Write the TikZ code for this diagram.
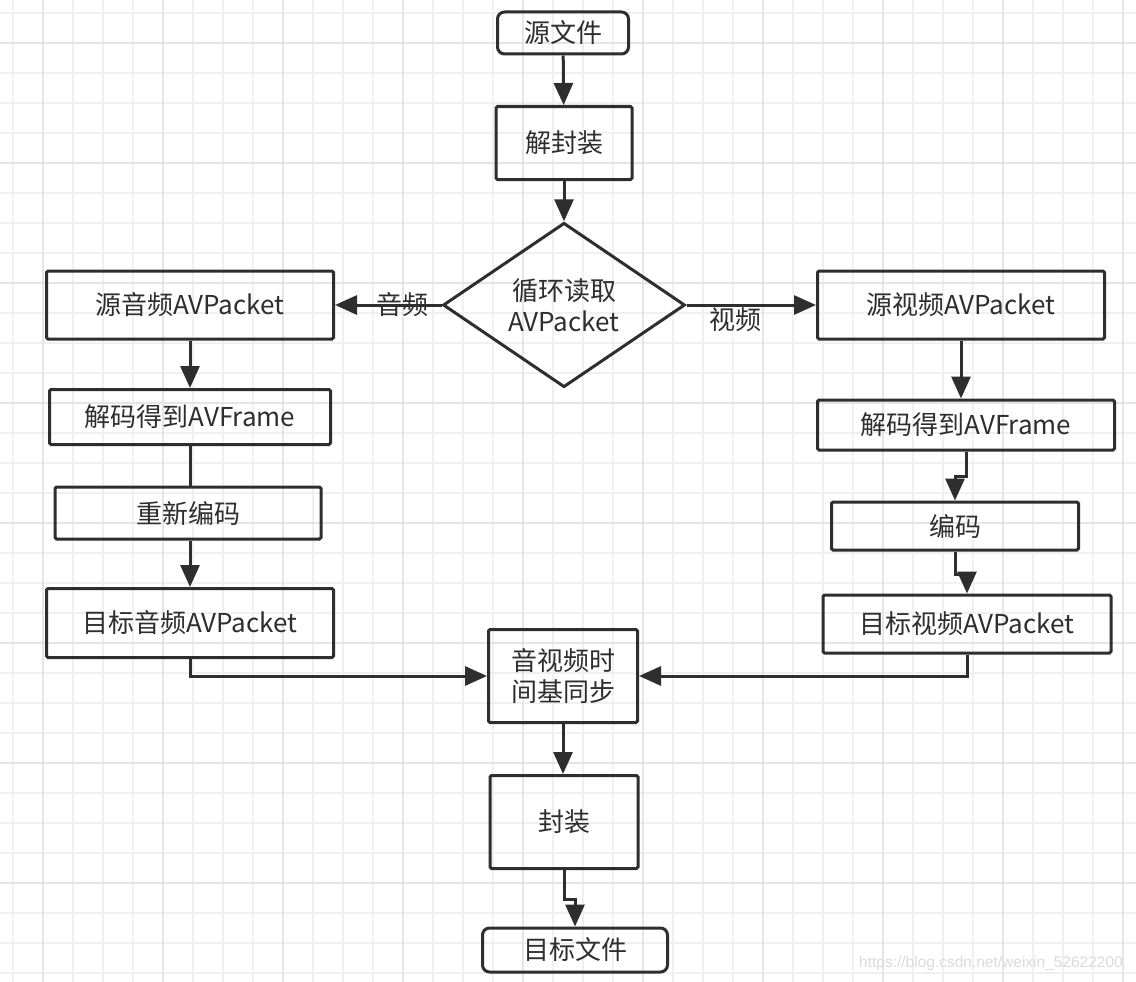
\documentclass[tikz,border=0pt]{standalone}
\usepackage{fontspec}
\setmainfont{Noto Sans CJK SC}
\newfontfamily\markfont{Liberation Sans}
\usetikzlibrary{arrows.meta, shapes.geometric}
\definecolor{ink}{HTML}{2E2E2E}
\definecolor{gridminor}{HTML}{F0F0F0}
\definecolor{gridmajor}{HTML}{E5E5E5}

\begin{document}
\begin{tikzpicture}[x=1pt, y=-1pt]
		\tikzset{box/.style = {draw=ink, line width=3pt, rounded corners=1.5pt, text=ink, align=center,
				font=\fontsize{26pt}{31pt}\selectfont, inner sep=0pt}}
		\tikzset{term/.style = {box, rounded corners=7pt}}
		\tikzset{choice/.style = {box, shape=diamond, rounded corners=0pt, minimum width=242pt, minimum height=160pt}}
		\tikzset{edge/.style = {draw=ink, line width=3pt, -{Triangle[length=22pt, width=19pt]}}}
		\tikzset{link/.style = {draw=ink, line width=3pt}}
		\tikzset{lbl/.style = {text=ink, font=\fontsize{26pt}{31pt}\selectfont, inner sep=0pt}}

		% paper with grid
		\useasboundingbox (0,0) rectangle (1136,982);
		\fill[white] (0,0) rectangle (1136,982);
		\foreach \g in {13,43,...,1133} \draw[gridminor, line width=1.6pt] (\g,0) -- (\g,982);
		\foreach \g in {13,43,...,980} \draw[gridminor, line width=1.6pt] (0,\g) -- (1136,\g);
		\foreach \g in {43,163,...,1133} \draw[gridmajor, line width=1.6pt] (\g,0) -- (\g,982);
		\foreach \g in {43,163,...,980} \draw[gridmajor, line width=1.6pt] (0,\g) -- (1136,\g);

		\node[term, minimum width=131pt, minimum height=42pt] (src) at (563,33) {源文件};
		\node[box, minimum width=136pt, minimum height=73pt] (demux) at (564,143) {解封装};
		\node[choice] (loop) at (564,305) {循环读取\\AVPacket};

		\node[box, minimum width=287pt, minimum height=68pt] (apkt) at (190,305) {源音频AVPacket};
		\node[box, minimum width=281pt, minimum height=55pt] (adec) at (190,417) {解码得到AVFrame};
		\node[box, minimum width=266pt, minimum height=52pt] (aenc) at (188,513) {重新编码};
		\node[box, minimum width=287pt, minimum height=69pt] (aout) at (190,623) {目标音频AVPacket};

		\node[box, minimum width=287pt, minimum height=68pt] (vpkt) at (961,305) {源视频AVPacket};
		\node[box, minimum width=297pt, minimum height=50pt] (vdec) at (966,425) {解码得到AVFrame};
		\node[box, minimum width=247pt, minimum height=48pt] (venc) at (955,526) {编码};
		\node[box, minimum width=288pt, minimum height=58pt] (vout) at (967,624) {目标视频AVPacket};

		\node[box, minimum width=149pt, minimum height=93pt] (sync) at (563,676) {音视频时\\间基同步};
		\node[box, minimum width=148pt, minimum height=93pt] (mux) at (564,822) {封装};
		\node[term, minimum width=185pt, minimum height=44pt] (dst) at (575,950) {目标文件};

		\node[text=black!14, font=\markfont\fontsize{15.5pt}{18pt}\selectfont] (mark) at (991,963) {https://blog.csdn.net/weixin\_52622200};

		\draw[edge] (src) to (demux);
		\draw[edge] (demux) to (loop);
		\draw[edge] (loop) to node[lbl, pos=0.37] {音频} (apkt);
		\draw[edge] (loop) to node[lbl, pos=0.38, yshift=-15pt] {视频} (vpkt);

		\draw[edge] (apkt) to (adec);
		\draw[link] (adec.south) to (adec.south |- aenc.north);
		\draw[edge] (aout.north |- aenc.south) to (aout.north);
		\draw[edge] (aout.south) |- (sync.west);

		\draw[edge] (vpkt.south) to (vpkt.south |- vdec.north);
		\draw[edge] (vdec.south) -- ++(0,25) -| (venc.north);
		\draw[edge] (venc.south) -- ++(0,23) -| (vout.north);
		\draw[edge] (vout.south) |- (sync.east);

		\draw[edge] (sync.south) to (sync.south |- mux.north);
		\draw[edge] (mux.south) -- ++(0,29) -| (dst.north);

	\end{tikzpicture}
\end{document}
